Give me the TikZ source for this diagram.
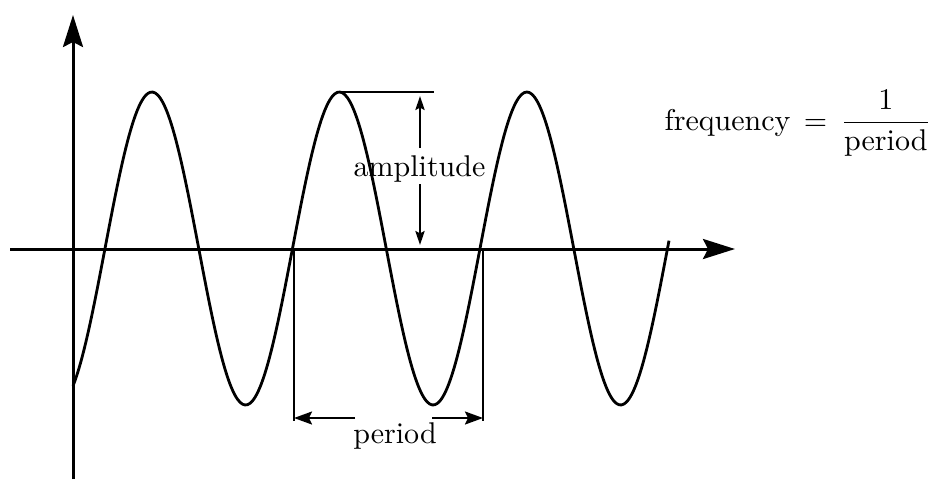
\documentclass[tikz,border=0pt]{standalone}
\usepackage{fontspec}
\usetikzlibrary{arrows.meta}
\tikzset{
  axisline/.style={line width=1.5pt,-{Stealth[length=16pt,width=10pt,inset=2.5pt]}},
  wave/.style={line width=1.4pt,line join=round},
  guide/.style={line width=1pt},
  amparrow/.style={line width=1pt,-{Stealth[length=7pt,width=4.6pt,inset=1.2pt]}},
  perarrow/.style={line width=1pt,-{Stealth[length=9pt,width=6.5pt,inset=1.5pt]}},
  lbl/.style={scale=1.5,inner sep=0pt}
}
\begin{document}
\begin{tikzpicture}[x=0.5pt,y=-0.5pt]
\useasboundingbox (0,0) rectangle (933,479);
% axes
\coordinate (ybot) at (73,479);
\coordinate (ytop) at (73,15);
\coordinate (xleft) at (10,249);
\coordinate (xright) at (735,249);
\draw[axisline] (ybot) -- (ytop);
\draw[axisline] (xleft) -- (xright);
% wave
\draw[wave] plot[domain=73:669,samples=240,smooth] (\x,{248.5-156.5*sin(1.92*(\x-105))});
% amplitude
\coordinate (peak) at (337,92);
\coordinate (peakend) at (434,92);
\draw[guide] (peak) -- (peakend);
\node[lbl,anchor=base] (amp) at (419.5,176) {amplitude};
\coordinate (atop) at (420,96);
\coordinate (abot) at (420,245);
\draw[amparrow] (420,148) -- (atop);
\draw[amparrow] (420,184) -- (abot);
% period
\coordinate (p1top) at (293.5,249);
\coordinate (p1bot) at (293.5,421);
\coordinate (p2top) at (483,249);
\coordinate (p2bot) at (483,421);
\draw[guide] (p1top) -- (p1bot);
\draw[guide] (p2top) -- (p2bot);
\node[lbl,anchor=base] (per) at (395,443) {period};
\coordinate (pl) at (294,418);
\coordinate (pr) at (483,418);
\draw[perarrow] (355,418) -- (pl);
\draw[perarrow] (432,418) -- (pr);
% frequency formula
\node[lbl,anchor=base west] (freq) at (664,130) {$\mbox{frequency}\,=\,\displaystyle\frac{1}{\mbox{period}}$};
\end{tikzpicture}
\end{document}
